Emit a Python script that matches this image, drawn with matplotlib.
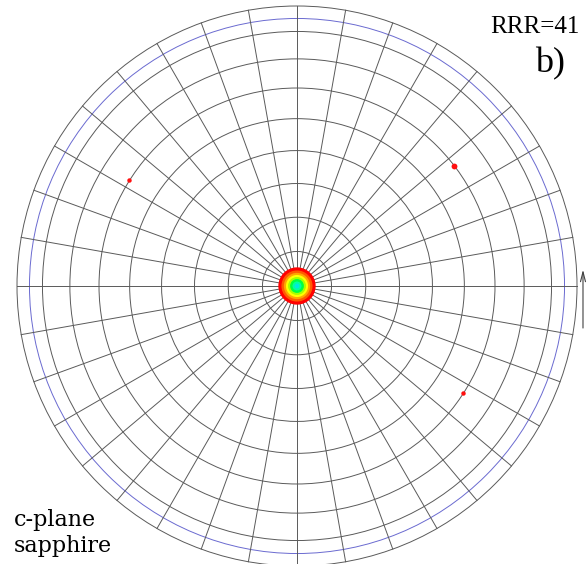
"""Pole figure of c-plane sapphire (equal-area projection, psi 0-90 deg)."""
import numpy as np
import matplotlib
matplotlib.use("Agg")
import matplotlib.pyplot as plt
from matplotlib.patches import Circle

# grid: tilt circles (psi, deg) and azimuth spokes (phi, deg)
grid_psi = [10, 20, 30, 40, 50, 60, 70, 80, 90]
limit_psi = 85
spoke_phi = np.arange(0, 360, 10)

# central peak: contour bands from outer (low) to inner (high), psi in deg
peak_band_psi = [5.4, 4.5, 3.8, 3.2, 2.6, 2.0, 1.3, 0.7]
peak_band_colors = ["#ff0000", "#ff5a00", "#ffa500", "#ffff00",
                    "#a8ff00", "#00ff40", "#00ffa0", "#00e8e0"]

# weak off-axis reflections
pole_phi = [147.8, 37.4, -32.8]
pole_psi = [60.0, 60.0, 60.0]
pole_size = [3.2, 4.2, 3.2]

GRID = "#5a5a5a"


def r_eq(psi):
    """equal-area radius (outer circle = 1) for tilt psi in degrees"""
    return np.sqrt(2.0) * np.sin(np.radians(psi) / 2.0)


fig = plt.figure(figsize=(5.88, 5.64), dpi=100)
ax = fig.add_axes([0, 0, 1, 1])
ax.set_xlim(-297 / 280, (588 - 297) / 280)
ax.set_ylim((286 - 564) / 280, 286 / 280)
ax.axis("off")

for psi in grid_psi:
    ax.add_patch(Circle((0, 0), r_eq(psi), fill=False, ec=GRID, lw=0.7))
ax.add_patch(Circle((0, 0), r_eq(limit_psi), fill=False, ec="#6a6ad0", lw=0.7))

for phi in spoke_phi:
    a = np.radians(phi)
    ax.plot([0, np.cos(a)], [0, np.sin(a)], color=GRID, lw=0.7)

for psi, col in zip(peak_band_psi, peak_band_colors):
    ax.add_patch(Circle((0, 0), r_eq(psi), fc=col, ec="none", zorder=3))

for phi, psi, s in zip(pole_phi, pole_psi, pole_size):
    a = np.radians(phi)
    r = r_eq(psi)
    ax.plot(r * np.cos(a), r * np.sin(a), "o", ms=s, color="#ff1010",
            mec="none", zorder=4)

# sample-direction arrow on the right edge
ax.annotate("", xy=(1.0214, 0.068), xytext=(1.0214, -0.16),
            arrowprops=dict(arrowstyle="->,head_length=0.7,head_width=0.18",
                            color="#404040", lw=0.8))

fig.text(580 / 588, 1 - 33 / 564, "RRR=41", ha="right", va="baseline",
         fontsize=18, family="Liberation Serif")
fig.text(565 / 588, 1 - 72 / 564, "b)", ha="right", va="baseline",
         fontsize=26, family="Liberation Serif")
fig.text(14 / 588, 1 - 526 / 564, "c-plane", ha="left", va="baseline",
         fontsize=16, family="DejaVu Serif")
fig.text(14 / 588, 1 - 552 / 564, "sapphire", ha="left", va="baseline",
         fontsize=16, family="DejaVu Serif")

fig.savefig("out.png", dpi=100)
